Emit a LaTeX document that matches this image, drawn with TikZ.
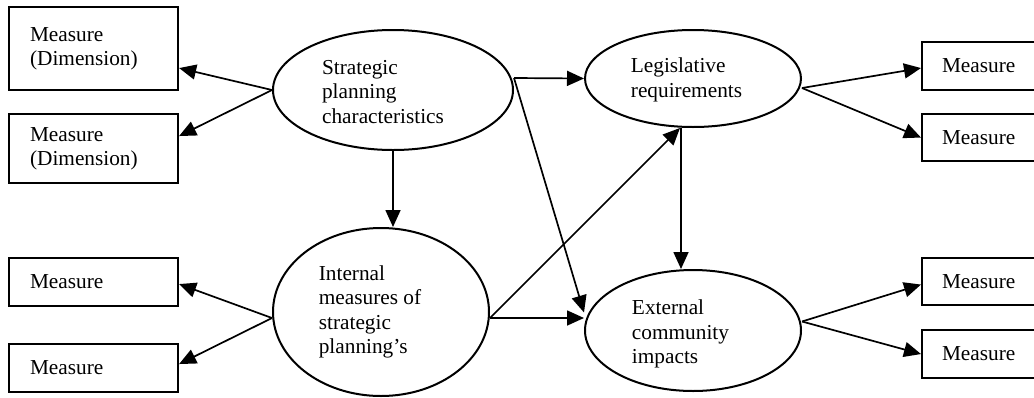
\documentclass[tikz,border=0pt]{standalone}
\usepackage{fontspec}
\setmainfont{Liberation Serif}
\usetikzlibrary{arrows.meta,shapes.geometric}

\tikzset{
  measurebox/.style={draw, line width=2.1pt, rectangle, anchor=north west,
    minimum width=169pt, inner ysep=0pt, align=left},
  latent/.style={draw, line width=2pt, ellipse, inner sep=0pt},
  lbl/.style={inner sep=0pt, align=left},
  link/.style={line width=1.7pt, -{Triangle[length=17pt,width=15pt]}},
}

\begin{document}
\begin{tikzpicture}[x=1pt, y=-1pt, font=\fontsize{21.3}{24.3}\selectfont]
  \useasboundingbox (0,0) rectangle (1034,397);
  \clip (0,0) rectangle (1034,397);

  % latent constructs
  \node[latent, minimum width=240pt, minimum height=120pt] (strat)  at (393,90)    {};
  \node[latent, minimum width=216pt, minimum height=97pt]  (legis)  at (693,78.5)  {};
  \node[latent, minimum width=216pt, minimum height=168pt] (intern) at (381,312)   {};
  \node[latent, minimum width=216pt, minimum height=121pt] (extern) at (693,330.5) {};

  \node[lbl] (stratT)  at (383,92)    {Strategic\\planning\\characteristics};
  \node[lbl] (legisT)  at (686.5,80)  {Legislative\\requirements};
  \node[lbl] (internT) at (370,312)   {Internal\\measures of\\strategic\\planning’s};
  \node[lbl] (externT) at (680.5,334) {External\\community\\impacts};

  % indicator boxes, left side
  \node[measurebox, minimum height=83pt, inner xsep=21pt, text width=127pt] (m1) at (8,6)   {Measure\\(Dimension)};
  \node[measurebox, minimum height=69pt, inner xsep=21pt, text width=127pt] (m2) at (8,113) {Measure\\(Dimension)};
  \node[measurebox, minimum height=48pt, inner xsep=21pt, text width=127pt] (m3) at (8,257) {Measure};
  \node[measurebox, minimum height=48pt, inner xsep=21pt, text width=127pt] (m4) at (8,343) {Measure};

  % indicator boxes, right side
  \node[measurebox, minimum height=48pt, inner xsep=20pt, text width=129pt] (m5) at (921,41)  {Measure};
  \node[measurebox, minimum height=47pt, inner xsep=20pt, text width=129pt] (m6) at (921,113) {Measure};
  \node[measurebox, minimum height=47pt, inner xsep=20pt, text width=129pt] (m7) at (921,257) {Measure};
  \node[measurebox, minimum height=48pt, inner xsep=20pt, text width=129pt] (m8) at (921,329) {Measure};

  % measurement arrows
  \draw[link] (strat.west) -- ([yshift=-19.5pt]m1.east);
  \draw[link] (strat.west) -- ([yshift=12.5pt]m2.east);
  \draw[link] ([yshift=-6pt]intern.west) -- ([yshift=-2pt]m3.east);
  \draw[link] ([yshift=-6pt]intern.west) -- ([yshift=4pt]m4.east);
  \draw[link] ([yshift=-9.5pt]legis.east) -- ([yshift=-2pt]m5.west);
  \draw[link] ([yshift=-9.5pt]legis.east) -- ([yshift=0pt]m6.west);
  \draw[link] ([yshift=9pt]extern.east) -- ([yshift=-3pt]m7.west);
  \draw[link] ([yshift=9pt]extern.east) -- ([yshift=0pt]m8.west);

  % structural paths
  \draw[link] ([yshift=12pt]strat.east) -- (legis.west);
  \draw[link] ([yshift=12pt]strat.east) -- ([yshift=18pt]extern.west);
  \draw[link] (strat.south) -- ([xshift=12pt]intern.north);
  \draw[link] ([yshift=-6pt]intern.east) -- ([yshift=12.5pt]extern.west);
  \draw[link] ([yshift=-6pt]intern.east) -- ([xshift=-13pt]legis.south);
  \draw[link] ([xshift=-12pt]legis.south) -- ([xshift=-12pt]extern.north);
\end{tikzpicture}
\end{document}
